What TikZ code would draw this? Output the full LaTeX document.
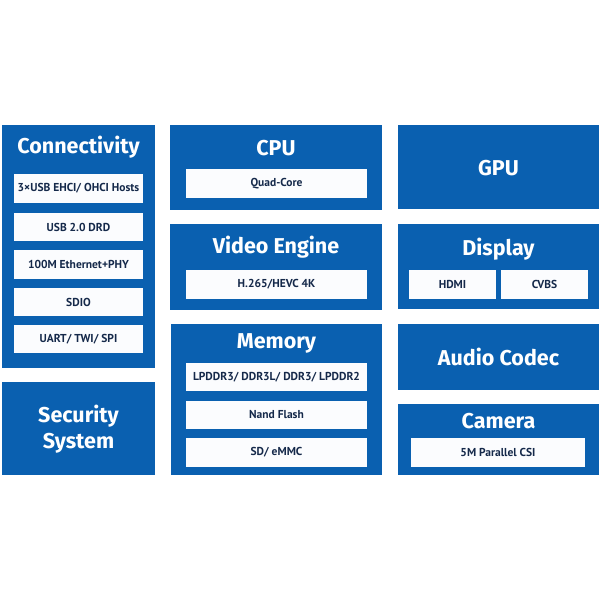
\documentclass[tikz,border=0pt]{standalone}
\usepackage{fontspec}
\setmainfont{Fira Sans}
\newfontfamily\condfont{PT Sans}
\definecolor{chipblue}{HTML}{0A60B0}
\definecolor{labelnavy}{HTML}{15294A}
\definecolor{subwhite}{HTML}{FBFCFE}
\begin{document}
\begin{tikzpicture}[x=1pt,y=-1pt,
  bluebox/.style={fill=chipblue,draw=none,inner sep=0pt,rectangle},
  subbox/.style={fill=subwhite,draw=none,inner sep=0pt,rectangle,minimum height=28.5pt,
     font=\condfont\bfseries\fontsize{11.5}{13}\selectfont,text=labelnavy},
  titletext/.style={text=white,font=\bfseries\fontsize{21.5}{26}\selectfont,inner sep=0pt,align=center}]
\useasboundingbox[fill=white] (0,0) rectangle (600,600);
% Connectivity
\node[bluebox,minimum width=153pt,minimum height=243pt] (conn) at (78.5,246.5) {};
\node[titletext] (connT) at (78.5,147) {Connectivity};
\node[subbox,minimum width=129pt] (usbh) at (78.5,188.5) {3×USB EHCI/ OHCI Hosts};
\node[subbox,minimum width=129pt] (usbd) at (78.5,227) {USB 2.0 DRD};
\node[subbox,minimum width=129pt] (eth) at (78.5,264.5) {100M Ethernet+PHY};
\node[subbox,minimum width=129pt] (sdio) at (78.5,302) {SDIO};
\node[subbox,minimum width=129pt] (uart) at (78.5,339) {UART/ TWI/ SPI};
% Security
\node[bluebox,minimum width=153pt,minimum height=93pt] (sec) at (78.5,428.5) {};
\node[titletext] (secT) at (78.5,429) {Security\\System};
% CPU
\node[bluebox,minimum width=212pt,minimum height=85pt] (cpu) at (276,167.5) {};
\node[titletext] (cpuT) at (276,148) {CPU};
\node[subbox,minimum width=181pt] (quad) at (276.5,183.5) {Quad-Core};
% Video Engine
\node[bluebox,minimum width=212pt,minimum height=86pt] (vid) at (276,267) {};
\node[titletext] (vidT) at (276,247) {Video Engine};
\node[subbox,minimum width=181pt] (hevc) at (276.5,284.5) {H.265/HEVC 4K};
% Memory
\node[bluebox,minimum width=211pt,minimum height=151pt] (mem) at (276.5,399.5) {};
\node[titletext] (memT) at (276.5,343) {Memory};
\node[subbox,minimum width=181pt] (ddr) at (276.5,377) {LPDDR3/ DDR3L/ DDR3/ LPDDR2};
\node[subbox,minimum width=181pt] (nand) at (276.5,415) {Nand Flash};
\node[subbox,minimum width=181pt] (emmc) at (276.5,452.5) {SD/ eMMC};
% GPU
\node[bluebox,minimum width=201pt,minimum height=84pt] (gpu) at (498.5,167) {};
\node[titletext] (gpuT) at (498.5,168) {GPU};
% Display
\node[bluebox,minimum width=201pt,minimum height=85pt] (disp) at (498.5,266.5) {};
\node[titletext] (dispT) at (498.5,249) {Display};
\node[subbox,minimum width=87pt] (hdmi) at (452.5,284.5) {HDMI};
\node[subbox,minimum width=87pt] (cvbs) at (544.5,284.5) {CVBS};
% Audio Codec
\node[bluebox,minimum width=201pt,minimum height=66pt] (aud) at (498.5,357) {};
\node[titletext] (audT) at (498.5,357) {Audio Codec};
% Camera
\node[bluebox,minimum width=201pt,minimum height=71pt] (cam) at (498.5,439.5) {};
\node[titletext] (camT) at (498.5,421) {Camera};
\node[subbox,minimum width=174pt] (csi) at (498,452.5) {5M Parallel CSI};
\end{tikzpicture}
\end{document}
